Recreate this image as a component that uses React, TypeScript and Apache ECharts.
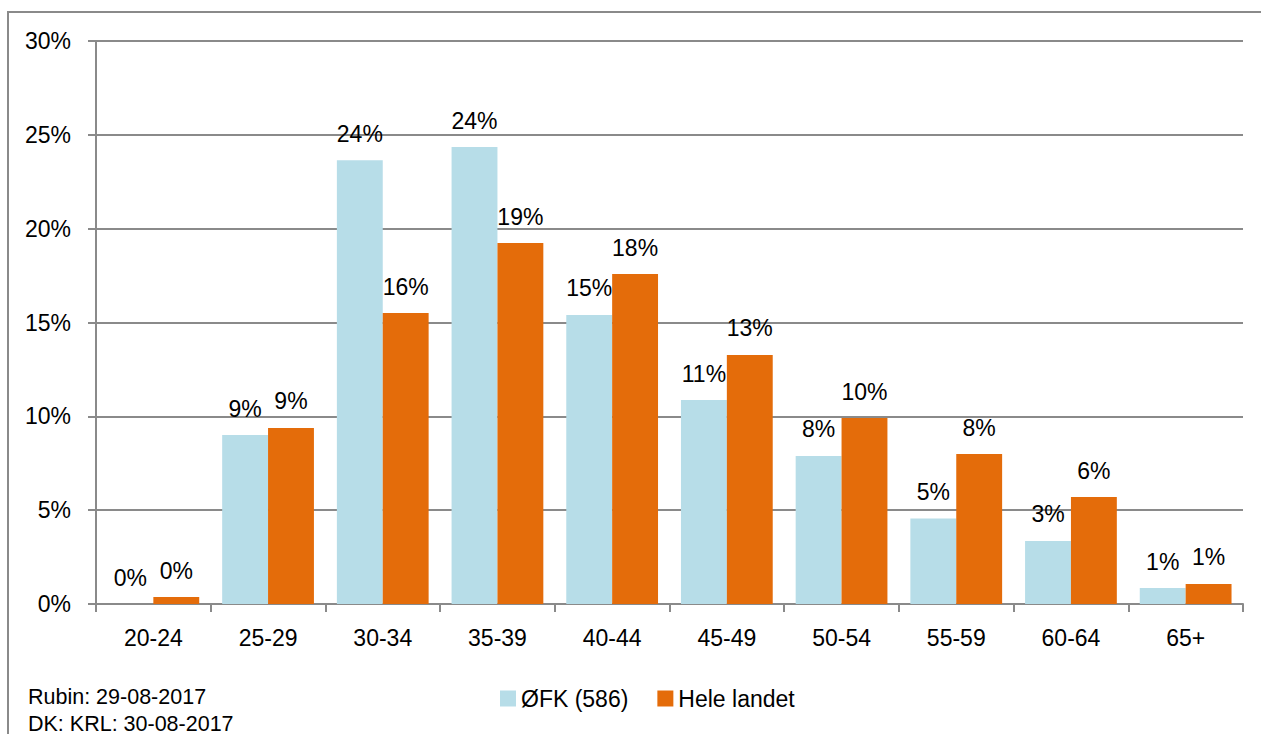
import React, { useEffect, useRef } from "react";
import * as echarts from "echarts";

const categories = ["20-24", "25-29", "30-34", "35-39", "40-44", "45-49", "50-54", "55-59", "60-64", "65+"];
const ofkValues = [0.0, 9.0, 23.65, 24.35, 15.4, 10.87, 7.89, 4.55, 3.36, 0.85];
const heleValues = [0.37, 9.38, 15.5, 19.23, 17.58, 13.27, 9.91, 7.99, 5.7, 1.07];
const seriesNames = ["ØFK (586)", "Hele landet"];
const footerLines = ["Rubin: 29-08-2017", "DK: KRL: 30-08-2017"];

const FONT = "Liberation Sans, Arial, sans-serif";
const GRAY = "#8a8a8a";

export default function App() {
  const ref = useRef<HTMLDivElement>(null);
  useEffect(() => {
    document.body.style.margin = "0";
    const chart = echarts.init(ref.current!, null, { renderer: "svg" });
    const label = {
      show: true,
      position: "top",
      distance: 15,
      color: "#000",
      fontSize: 23,
      fontFamily: FONT,
      formatter: (p: any) => Math.round(p.value) + "%",
    };
    chart.setOption({
      animation: false,
      textStyle: { fontFamily: FONT },
      grid: { left: 96, top: 41, right: 18, bottom: 130, containLabel: false },
      legend: {
        left: 495,
        top: 682,
        itemWidth: 16,
        itemHeight: 16,
        itemGap: 29,
        icon: "rect",
        textStyle: { fontSize: 23, color: "#000", fontFamily: FONT },
        data: seriesNames,
      },
      xAxis: {
        type: "category",
        data: categories,
        axisLine: { lineStyle: { color: GRAY, width: 2 } },
        axisTick: { show: true, length: 8, lineStyle: { color: GRAY, width: 2 } },
        axisLabel: { color: "#000", fontSize: 23, margin: 22, fontFamily: FONT },
      },
      yAxis: {
        type: "value",
        min: 0,
        max: 30,
        interval: 5,
        axisLine: { show: true, lineStyle: { color: GRAY, width: 2 } },
        axisTick: { show: true, length: 8, lineStyle: { color: GRAY, width: 2 } },
        axisLabel: { color: "#000", fontSize: 23, margin: 25, fontFamily: FONT, formatter: "{value}%" },
        splitLine: { show: true, lineStyle: { color: GRAY, width: 2 } },
      },
      series: [
        {
          name: seriesNames[0],
          type: "bar",
          data: ofkValues,
          barGap: "0%",
          barCategoryGap: "20%",
          itemStyle: { color: "#b7dde8" },
          label,
        },
        {
          name: seriesNames[1],
          type: "bar",
          data: heleValues,
          barGap: "0%",
          barCategoryGap: "20%",
          itemStyle: { color: "#e46c0a" },
          label,
        },
      ],
      graphic: [
        {
          type: "rect",
          shape: { x: 8, y: 12, width: 1400, height: 900 },
          style: { fill: "none", stroke: GRAY, lineWidth: 2 },
          silent: true,
        },
        {
          type: "text",
          left: 28,
          top: 686,
          style: { text: footerLines[0], fontSize: 21.5, fill: "#000", fontFamily: FONT },
        },
        {
          type: "text",
          left: 28,
          top: 713,
          style: { text: footerLines[1], fontSize: 21.5, fill: "#000", fontFamily: FONT },
        },
      ],
    });
    return () => chart.dispose();
  }, []);
  return <div ref={ref} style={{ width: 1261, height: 734 }} />;
}
